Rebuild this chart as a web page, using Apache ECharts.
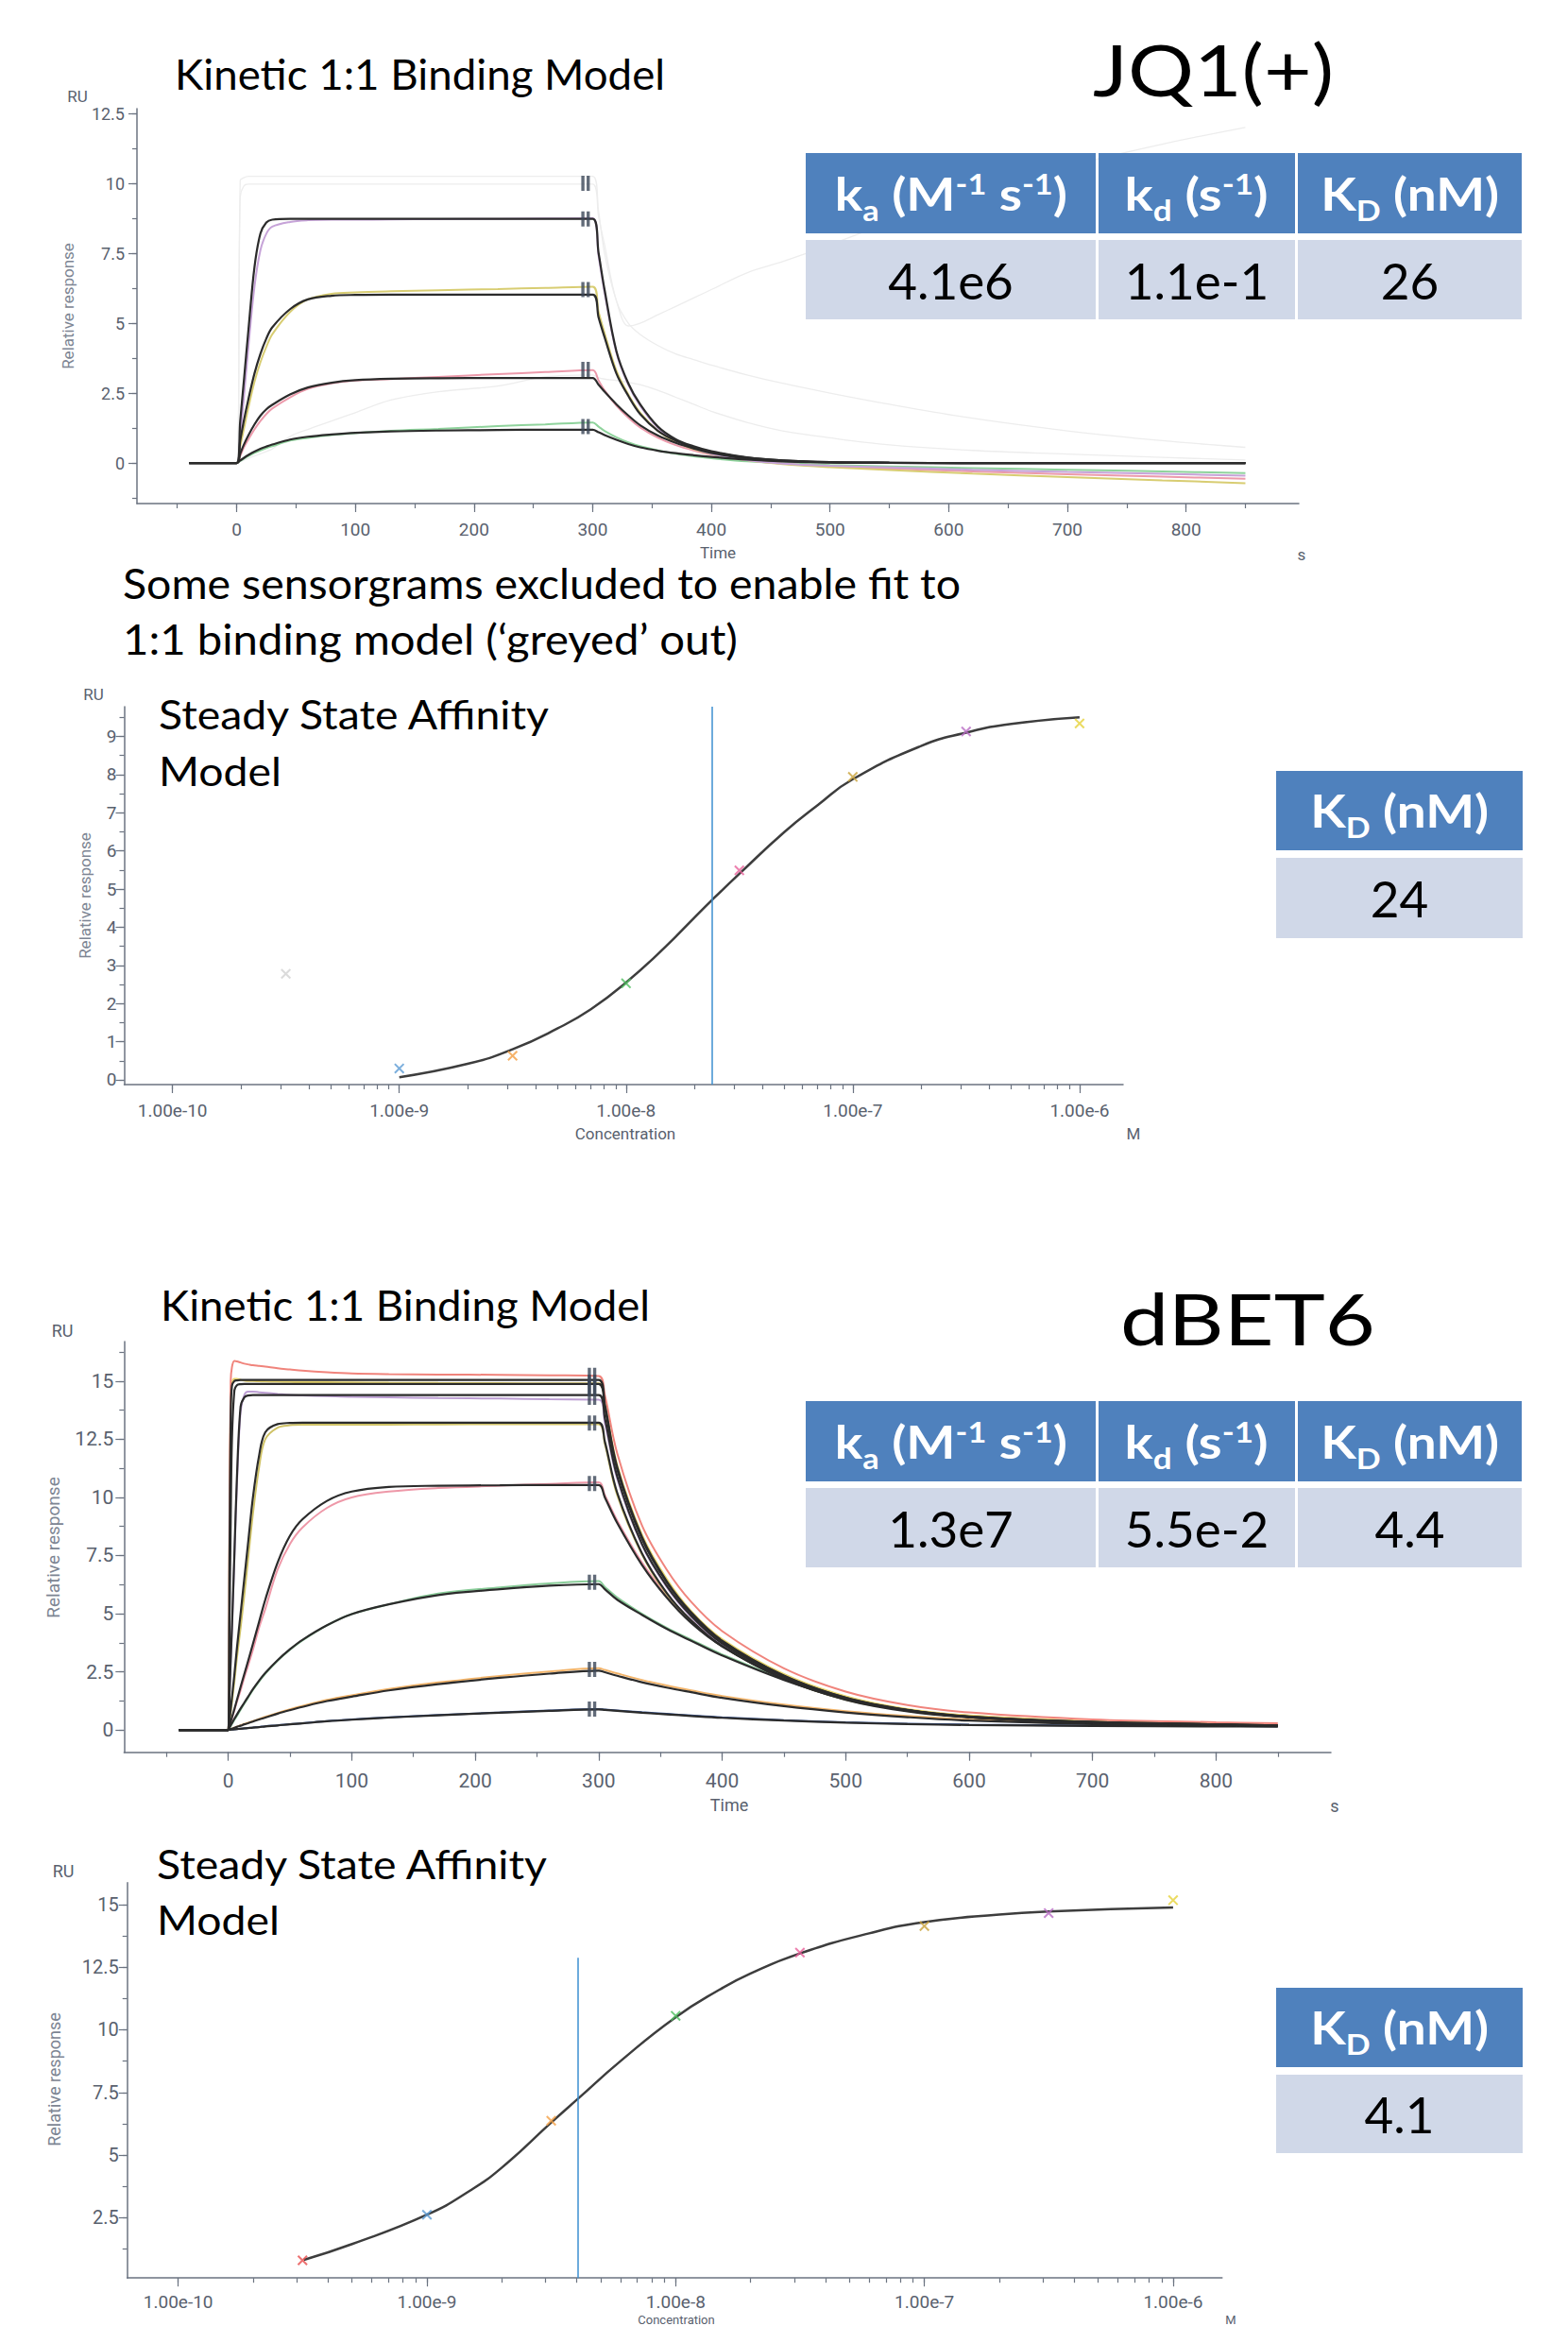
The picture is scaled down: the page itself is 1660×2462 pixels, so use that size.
<!DOCTYPE html>
<html>
<head>
<meta charset="utf-8">
<title>JQ1(+) / dBET6 binding</title>
<script src="https://cdn.jsdelivr.net/npm/echarts@6.0.0/dist/echarts.min.js"></script>
<style>
  html, body { margin: 0; padding: 0; background: #fff; }
  #page { position: relative; width: 1660px; height: 2462px; overflow: hidden; }
  #chart { position: absolute; left: 0; top: 0; width: 1660px; height: 2462px; }
  .txt { position: absolute; font-family: Lato, 'Open Sans', sans-serif; color: #000; white-space: nowrap; line-height: 1; transform-origin: 0 0; }
  .big { font-weight: 400; }
  .tbl { position: absolute; display: grid; }
  .tbl > div { display: flex; align-items: center; justify-content: center; font-family: Lato, sans-serif; line-height: 1; white-space: nowrap; }
  .tbl span { display: inline-block; transform-origin: 50% 50%; }
  .hd { background: #4f81bd; color: #fff; font-weight: 700; font-size: 48px; }
  .cl { background: #d0d8e8; color: #000; font-size: 53px; }
  .tbl sub, .tbl sup { font-size: 62%; line-height: 0; }
</style>
</head>
<body>
<div id="page">
  <div id="chart"></div>

  <div class="txt" data-w="519" style="left:185px; top:56px; font-size:44px;">Kinetic 1:1 Binding Model</div>
  <div class="txt big" data-w="255" style="left:1157px; top:35px; font-size:76px;">JQ1(+)</div>
  <div class="txt" data-w="887" style="left:130px; top:595px; font-size:44px;">Some sensorgrams excluded to enable fit to</div>
  <div class="txt" data-w="651" style="left:130px; top:654px; font-size:44px;">1:1 binding model (‘greyed’ out)</div>
  <div class="txt" data-w="413" style="left:168px; top:734px; font-size:43px;">Steady State Affinity</div>
  <div class="txt" data-w="130" style="left:168px; top:794px; font-size:43px;">Model</div>

  <div class="txt" data-w="518" style="left:170px; top:1359px; font-size:44px;">Kinetic 1:1 Binding Model</div>
  <div class="txt big" data-w="270" style="left:1186px; top:1357px; font-size:76px;">dBET6</div>
  <div class="txt" data-w="413" style="left:166px; top:1951px; font-size:43px;">Steady State Affinity</div>
  <div class="txt" data-w="130" style="left:166px; top:2010px; font-size:43px;">Model</div>

  <div class="tbl" style="left:853px; top:162px; grid-template-columns:307px 208px 237px; grid-template-rows:85px 84px; column-gap:3px; row-gap:7px;">
    <div class="hd"><span data-w="246">k<sub>a</sub> (M<sup>-1</sup> s<sup>-1</sup>)</span></div>
    <div class="hd"><span data-w="152">k<sub>d</sub> (s<sup>-1</sup>)</span></div>
    <div class="hd"><span data-w="189">K<sub>D</sub> (nM)</span></div>
    <div class="cl"><span>4.1e6</span></div>
    <div class="cl"><span>1.1e-1</span></div>
    <div class="cl"><span>26</span></div>
  </div>
  <div class="tbl" style="left:1351px; top:816px; grid-template-columns:261px; grid-template-rows:84px 85px; row-gap:8px;">
    <div class="hd"><span data-w="189">K<sub>D</sub> (nM)</span></div>
    <div class="cl"><span>24</span></div>
  </div>

  <div class="tbl" style="left:853px; top:1483px; grid-template-columns:307px 208px 237px; grid-template-rows:85px 84px; column-gap:3px; row-gap:7px;">
    <div class="hd"><span data-w="246">k<sub>a</sub> (M<sup>-1</sup> s<sup>-1</sup>)</span></div>
    <div class="hd"><span data-w="152">k<sub>d</sub> (s<sup>-1</sup>)</span></div>
    <div class="hd"><span data-w="189">K<sub>D</sub> (nM)</span></div>
    <div class="cl"><span>1.3e7</span></div>
    <div class="cl"><span>5.5e-2</span></div>
    <div class="cl"><span>4.4</span></div>
  </div>
  <div class="tbl" style="left:1351px; top:2104px; grid-template-columns:261px; grid-template-rows:84px 83px; row-gap:8px;">
    <div class="hd"><span data-w="189">K<sub>D</sub> (nM)</span></div>
    <div class="cl"><span>4.1</span></div>
  </div>
</div>

<script>
// ---------- JQ1(+) kinetics (time grid, s) ----------
const JQ1_T = [-40, 0, 3, 6, 10, 15, 20, 25, 30, 45, 60, 80, 100, 130, 170, 220, 260, 300,
  305, 310, 320, 330, 340, 355, 370, 385, 400, 430, 460, 500, 550, 620, 700, 780, 850];

// excluded ("greyed out") sensorgrams
const JQ1_GREY_A = [0, 0, 10.1, 10.2, 10.25, 10.25, 10.25, 10.25, 10.25, 10.25, 10.25, 10.25, 10.25, 10.25, 10.25, 10.25, 10.25, 10.25,
  9.0, 7.5, 5.8, 4.9, 5.0, 5.3, 5.6, 5.9, 6.2, 6.8, 7.2, 7.8, 8.6, 9.6, 10.6, 11.4, 12.0];
const JQ1_GREY_B = [0, 0, 9.5, 9.9, 9.97, 9.97, 9.97, 9.97, 9.97, 9.97, 9.97, 9.97, 9.97, 9.97, 9.97, 9.97, 9.97, 9.97,
  8.8, 7.8, 5.8, 5.0, 4.6, 4.2, 3.9, 3.7, 3.5, 3.15, 2.85, 2.5, 2.1, 1.6, 1.15, 0.8, 0.56];
const JQ1_GREY_C = [0, 0, 0.05, 0.1, 0.17, 0.25, 0.33, 0.41, 0.5, 0.95, 1.2, 1.5, 1.8, 2.25, 2.55, 2.75, 3.08, 3.15,
  3.05, 3.0, 2.95, 2.88, 2.8, 2.6, 2.35, 2.1, 1.85, 1.45, 1.15, 0.9, 0.65, 0.45, 0.32, 0.2, 0.11];

// measured sensorgrams
const JQ1_PURPLE = [0, 0, 1.0, 2.3, 4.2, 6.3, 7.6, 8.2, 8.45, 8.62, 8.68, 8.7, 8.7, 8.71, 8.72, 8.73, 8.74, 8.75,
  7.4, 6.1, 3.95, 2.8, 2.05, 1.25, 0.8, 0.52, 0.33, 0.1, -0.02, -0.1, -0.16, -0.24, -0.32, -0.39, -0.45];
const JQ1_YELLOW = [0, 0, 0.6, 1.2, 2.0, 2.9, 3.6, 4.15, 4.6, 5.4, 5.85, 6.05, 6.1, 6.14, 6.18, 6.22, 6.26, 6.3,
  5.4, 4.65, 3.3, 2.45, 1.8, 1.15, 0.75, 0.5, 0.32, 0.1, -0.04, -0.15, -0.25, -0.38, -0.5, -0.62, -0.72];
const JQ1_PINK = [0, 0, 0.25, 0.55, 0.85, 1.2, 1.5, 1.75, 1.95, 2.35, 2.65, 2.85, 2.95, 3.0, 3.08, 3.18, 3.25, 3.32,
  2.95, 2.6, 2.05, 1.62, 1.27, 0.9, 0.64, 0.45, 0.3, 0.1, -0.02, -0.12, -0.2, -0.3, -0.4, -0.49, -0.56];
const JQ1_GREEN = [0, 0, 0.07, 0.15, 0.25, 0.36, 0.45, 0.53, 0.6, 0.8, 0.9, 1.0, 1.07, 1.15, 1.22, 1.32, 1.38, 1.45,
  1.3, 1.15, 0.92, 0.74, 0.6, 0.45, 0.33, 0.24, 0.17, 0.06, -0.01, -0.07, -0.12, -0.18, -0.24, -0.3, -0.36];

// 1:1 model fits
const JQ1_FIT_A = [0, 0, 1.5, 2.9, 4.8, 7.0, 8.2, 8.6, 8.7, 8.73, 8.73, 8.73, 8.73, 8.73, 8.73, 8.73, 8.73, 8.73,
  7.5, 6.2, 4.0, 2.85, 2.1, 1.3, 0.85, 0.6, 0.42, 0.2, 0.09, 0.03, 0.01, 0, 0, 0, 0];
const JQ1_FIT_B = [0, 0, 0.8, 1.5, 2.3, 3.2, 3.9, 4.45, 4.85, 5.5, 5.85, 5.98, 6.01, 6.02, 6.02, 6.02, 6.02, 6.02,
  5.2, 4.5, 3.2, 2.4, 1.75, 1.15, 0.8, 0.56, 0.4, 0.19, 0.09, 0.03, 0.01, 0, 0, 0, 0];
const JQ1_FIT_C = [0, 0, 0.33, 0.65, 1.0, 1.38, 1.69, 1.92, 2.08, 2.45, 2.7, 2.87, 2.96, 3.01, 3.03, 3.04, 3.04, 3.04,
  2.8, 2.55, 2.1, 1.7, 1.35, 0.98, 0.72, 0.52, 0.36, 0.16, 0.07, 0.02, 0.005, 0, 0, 0, 0];
const JQ1_FIT_D = [0, 0, 0.09, 0.18, 0.29, 0.41, 0.51, 0.59, 0.66, 0.84, 0.94, 1.02, 1.08, 1.13, 1.16, 1.18, 1.19, 1.19,
  1.1, 1.0, 0.83, 0.68, 0.56, 0.44, 0.35, 0.28, 0.22, 0.12, 0.06, 0.02, 0.005, 0, 0, 0, 0];

const JQ1_MARK_T = 294;
const JQ1_MARKS = [10.0, 8.73, 6.2, 3.35, 1.3];

// ---------- dBET6 kinetics ----------
const DB_T = [-40, 0, 1, 2, 3, 5, 7, 10, 13, 16, 20, 25, 30, 40, 50, 60, 80, 100, 130, 170, 220, 260, 300,
  305, 315, 335, 355, 375, 400, 450, 500, 550, 600, 700, 800, 850];

const DB_RED = [0, 0, 9.0, 15.0, 15.6, 15.87, 15.85, 15.8, 15.75, 15.72, 15.68, 15.65, 15.62, 15.55, 15.5, 15.45, 15.38, 15.33, 15.3, 15.28, 15.27, 15.25, 15.22,
  14.4, 11.9, 8.8, 6.9, 5.5, 4.25, 2.65, 1.65, 1.07, 0.75, 0.45, 0.33, 0.29];
const DB_YELLOW = [0, 0, 8.0, 14.2, 14.9, 15.1, 15.1, 15.05, 15.02, 15.0, 15.0, 14.99, 14.98, 14.97, 14.96, 14.95, 14.95, 14.94, 14.93, 14.92, 14.91, 14.9, 14.9,
  14.0, 11.4, 8.4, 6.5, 5.1, 3.9, 2.4, 1.45, 0.9, 0.62, 0.37, 0.26, 0.21];
const DB_PURPLE = [0, 0, 1.5, 3.0, 4.3, 7.4, 10.5, 13.7, 14.4, 14.55, 14.55, 14.52, 14.5, 14.45, 14.4, 14.38, 14.35, 14.32, 14.3, 14.27, 14.25, 14.22, 14.2,
  13.2, 10.8, 7.95, 6.15, 4.85, 3.68, 2.25, 1.35, 0.84, 0.57, 0.34, 0.24, 0.2];
const DB_OLIVE = [0, 0, 0.35, 0.75, 1.2, 2.1, 3.1, 4.4, 5.8, 7.3, 9.3, 11.3, 12.5, 13.0, 13.1, 13.12, 13.12, 13.12, 13.13, 13.14, 13.15, 13.15, 13.15,
  12.3, 10.1, 7.55, 5.85, 4.7, 3.6, 2.2, 1.3, 0.82, 0.56, 0.33, 0.23, 0.19];
const DB_PINK = [0, 0, 0.15, 0.32, 0.5, 0.85, 1.2, 1.7, 2.25, 2.75, 3.45, 4.4, 5.2, 6.9, 8.0, 8.7, 9.55, 10.0, 10.25, 10.4, 10.5, 10.58, 10.65,
  10.1, 9.0, 7.2, 5.8, 4.7, 3.68, 2.25, 1.4, 0.87, 0.6, 0.36, 0.26, 0.22];
const DB_GREEN = [0, 0, 0.08, 0.17, 0.26, 0.43, 0.6, 0.87, 1.13, 1.38, 1.72, 2.08, 2.42, 2.98, 3.45, 3.85, 4.5, 4.98, 5.4, 5.86, 6.13, 6.3, 6.4,
  6.15, 5.7, 5.0, 4.4, 3.88, 3.25, 2.18, 1.36, 0.88, 0.58, 0.35, 0.24, 0.2];
const DB_ORANGE = [0, 0, 0.02, 0.04, 0.06, 0.1, 0.14, 0.2, 0.26, 0.31, 0.38, 0.47, 0.56, 0.73, 0.89, 1.03, 1.29, 1.49, 1.76, 2.04, 2.32, 2.51, 2.65,
  2.58, 2.43, 2.15, 1.91, 1.7, 1.46, 1.09, 0.81, 0.6, 0.45, 0.29, 0.22, 0.2];
const DB_NAVY = [0, 0, 0.005, 0.01, 0.015, 0.025, 0.035, 0.05, 0.065, 0.08, 0.1, 0.13, 0.16, 0.2, 0.25, 0.29, 0.38, 0.45, 0.54, 0.64, 0.75, 0.84, 0.9,
  0.88, 0.84, 0.76, 0.69, 0.62, 0.54, 0.42, 0.33, 0.27, 0.23, 0.19, 0.17, 0.16];

const DB_FIT_1 = [0, 0, 7.0, 13.5, 14.8, 15.0, 15.03, 15.05, 15.05, 15.05, 15.05, 15.05, 15.05, 15.05, 15.05, 15.05, 15.05, 15.05, 15.05, 15.05, 15.05, 15.05, 15.05,
  14.0, 11.3, 8.3, 6.4, 5.05, 3.84, 2.34, 1.39, 0.86, 0.58, 0.34, 0.24, 0.19];
const DB_FIT_2 = [0, 0, 4.5, 9.0, 12.5, 14.6, 14.82, 14.87, 14.88, 14.88, 14.88, 14.88, 14.88, 14.88, 14.88, 14.88, 14.88, 14.88, 14.88, 14.88, 14.88, 14.88, 14.88,
  13.85, 11.2, 8.22, 6.35, 5.0, 3.8, 2.32, 1.38, 0.85, 0.57, 0.34, 0.24, 0.19];
const DB_FIT_3 = [0, 0, 1.5, 3.0, 4.4, 7.6, 10.8, 13.9, 14.3, 14.38, 14.4, 14.4, 14.4, 14.4, 14.4, 14.4, 14.4, 14.4, 14.4, 14.4, 14.4, 14.4, 14.4,
  13.4, 10.9, 8.0, 6.2, 4.9, 3.72, 2.28, 1.36, 0.84, 0.56, 0.33, 0.23, 0.18];
const DB_FIT_4 = [0, 0, 0.45, 0.9, 1.4, 2.4, 3.5, 5.0, 6.5, 8.0, 10.0, 11.8, 12.8, 13.15, 13.2, 13.21, 13.21, 13.21, 13.21, 13.21, 13.21, 13.21, 13.21,
  12.4, 10.2, 7.6, 5.9, 4.7, 3.6, 2.2, 1.3, 0.8, 0.55, 0.32, 0.22, 0.18];
const DB_FIT_5 = [0, 0, 0.18, 0.36, 0.54, 0.9, 1.28, 1.85, 2.4, 2.95, 3.7, 4.65, 5.6, 7.2, 8.35, 9.05, 9.85, 10.25, 10.45, 10.5, 10.52, 10.53, 10.53,
  10.0, 8.9, 7.1, 5.7, 4.6, 3.6, 2.2, 1.35, 0.83, 0.55, 0.32, 0.22, 0.18];
const DB_FIT_6 = [0, 0, 0.1, 0.2, 0.29, 0.48, 0.66, 0.92, 1.17, 1.42, 1.75, 2.12, 2.45, 3.0, 3.47, 3.87, 4.5, 4.98, 5.4, 5.8, 6.05, 6.2, 6.27,
  6.05, 5.6, 4.95, 4.35, 3.83, 3.2, 2.15, 1.32, 0.85, 0.55, 0.32, 0.22, 0.18];
const DB_FIT_7 = [0, 0, 0.02, 0.04, 0.05, 0.09, 0.13, 0.18, 0.24, 0.29, 0.36, 0.45, 0.53, 0.7, 0.85, 0.99, 1.24, 1.43, 1.7, 1.97, 2.24, 2.42, 2.55,
  2.48, 2.33, 2.05, 1.82, 1.62, 1.38, 1.02, 0.75, 0.55, 0.4, 0.25, 0.19, 0.17];
const DB_FIT_8 = [0, 0, 0.005, 0.01, 0.015, 0.025, 0.035, 0.05, 0.065, 0.08, 0.1, 0.12, 0.15, 0.19, 0.24, 0.28, 0.37, 0.44, 0.53, 0.63, 0.74, 0.82, 0.88,
  0.86, 0.82, 0.74, 0.67, 0.6, 0.52, 0.4, 0.31, 0.25, 0.21, 0.17, 0.15, 0.14];

const DB_MARK_T = 294.6;
const DB_MARKS = [15.25, 14.95, 14.7, 14.3, 13.2, 10.6, 6.35, 2.6, 0.9];

// ---------- steady state affinity ----------
const CONC = [3.16e-10, 1e-9, 3.16e-9, 1e-8, 3.16e-8, 1e-7, 3.16e-7, 1e-6];
const JQ1_SS = [2.78, 0.30, 0.63, 2.53, 5.49, 7.94, 9.13, 9.34];
const JQ1_SS_COLORS = ['#d2d2d2', '#5b9bd5', '#f4a046', '#4fbf5f', '#e8619b', '#c9a23a', '#b86bc4', '#e6d23a'];
const JQ1_FIT_CONC = [1e-9, 2e-9, 3.16e-9, 5e-9, 7e-9, 1e-8, 1.5e-8, 2e-8, 2.4e-8, 3.16e-8, 5e-8, 7e-8, 1e-7, 2e-7, 3.16e-7, 5e-7, 1e-6];
const JQ1_FIT_RU = [0.07, 0.42, 0.8, 1.35, 1.85, 2.55, 3.5, 4.25, 4.72, 5.4, 6.5, 7.2, 7.88, 8.75, 9.1, 9.33, 9.5];
const JQ1_KD = 2.4e-8;

const DB_SS = [0.80, 2.62, 6.37, 10.56, 13.08, 14.14, 14.66, 15.17];
const DB_SS_COLORS = ['#e84d4d', '#5b9bd5', '#f4a046', '#4fbf5f', '#e8619b', '#c9a23a', '#b86bc4', '#e6d23a'];
const DB_FIT_CONC = [3.2e-10, 5e-10, 1e-9, 1.5e-9, 2e-9, 3.16e-9, 4.05e-9, 6e-9, 1e-8, 1.5e-8, 2e-8, 3.16e-8, 6e-8, 1e-7, 2e-7, 3.16e-7, 1e-6];
const DB_FIT_RU = [0.82, 1.45, 2.62, 3.6, 4.5, 6.3, 7.25, 8.75, 10.5, 11.6, 12.25, 13.05, 13.85, 14.3, 14.6, 14.72, 14.88];
const DB_KD = 4.05e-9;
const DB_KD_TOP = 12.87;

// ---------- ticks / labels ----------
const TIME_TICKS = [-50, 0, 50, 100, 150, 200, 250, 300, 350, 400, 450, 500, 550, 600, 650, 700, 750, 800, 850];
const TIME_LABELS = [0, 100, 200, 300, 400, 500, 600, 700, 800];
const JQ1_Y_TICKS = [-1.25, 0, 1.25, 2.5, 3.75, 5, 6.25, 7.5, 8.75, 10, 11.25, 12.5];
const JQ1_Y_LABELS = [0, 2.5, 5, 7.5, 10, 12.5];
const DB_Y_TICKS = [0, 1.25, 2.5, 3.75, 5, 6.25, 7.5, 8.75, 10, 11.25, 12.5, 13.75, 15, 16.25];
const DB_Y_LABELS = [0, 2.5, 5, 7.5, 10, 12.5, 15];
const SS1_Y_TICKS = [0, 0.5, 1, 1.5, 2, 2.5, 3, 3.5, 4, 4.5, 5, 5.5, 6, 6.5, 7, 7.5, 8, 8.5, 9, 9.5];
const SS1_Y_LABELS = [0, 1, 2, 3, 4, 5, 6, 7, 8, 9];
const SS2_Y_TICKS = [1.25, 2.5, 3.75, 5, 6.25, 7.5, 8.75, 10, 11.25, 12.5, 13.75, 15];
const SS2_Y_LABELS = [2.5, 5, 7.5, 10, 12.5, 15];
const CONC_DECADES = [1e-10, 1e-9, 1e-8, 1e-7, 1e-6];
const DECADE_STEPS = [1, 2, 3, 4, 5, 6, 7, 8, 9];
const CONC_TICKS = CONC_DECADES.flatMap(d => DECADE_STEPS.map(m => m * d));

const AXIS_COLOR = '#6b7380';
const LABEL_COLOR = '#59616e';
const NAME_COLOR = '#7d8593';
const FIT_COLOR = '#2b2b2b';
const KD_COLOR = '#3d8fd1';
const MARK_COLOR = '#3b4658';
const GREY = '#ededed';

const X_MARK = 'path://M0 1.3L1.3 0L10 8.7L8.7 10Z M8.7 0L10 1.3L1.3 10L0 8.7Z';
const BARS = 'path://M0 0H3V14H0Z M5 0H8V14H5Z';

const pairs = (xs, ys) => xs.map((x, i) => [x, ys[i]]);
const expFmt = v => Number(v).toExponential(2);

// one visible axis with minor ticks + labels, and a twin with longer major ticks only
function axisPair(dim, grid, type, min, max, minor, major, labels, fontSize, margin, fmt) {
  const base = { type, gridIndex: grid, min, max, position: dim === 'x' ? 'bottom' : 'left', splitLine: { show: false }, silent: true };
  if (type === 'log') base.logBase = 10;
  const lineStyle = { color: AXIS_COLOR, width: 1.5 };
  return [
    Object.assign({}, base, {
      axisLine: { show: true, onZero: false, lineStyle },
      axisTick: { show: true, length: 5, customValues: minor, lineStyle: { color: AXIS_COLOR, width: 1.2 } },
      axisLabel: { show: true, customValues: labels, formatter: fmt, color: LABEL_COLOR, fontSize, fontFamily: 'Roboto', margin }
    }),
    Object.assign({}, base, {
      axisLine: { show: false, onZero: false },
      axisTick: { show: true, length: 9, customValues: major, lineStyle: { color: AXIS_COLOR, width: 1.2 } },
      axisLabel: { show: false }
    })
  ];
}

function line(xi, yi, data, color, width, z, smooth) {
  return { type: 'line', xAxisIndex: xi, yAxisIndex: yi, data, showSymbol: false, symbol: 'none',
    smooth: smooth || 0.35, lineStyle: { color, width }, z, silent: true };
}

function label(text, x, y, size, rotated, color) {
  return { type: 'text', x, y, rotation: rotated ? Math.PI / 2 : 0, silent: true,
    style: { text, fill: color || LABEL_COLOR, font: size + 'px Roboto', textAlign: 'center', align: 'center', textVerticalAlign: 'middle', verticalAlign: 'middle' } };
}

const LOG_MIN_1 = Math.pow(10, -10.213), LOG_MAX_1 = Math.pow(10, -5.808);
const LOG_MIN_2 = Math.pow(10, -10.205), LOG_MAX_2 = Math.pow(10, -5.803);

const xAxis = [].concat(
  axisPair('x', 0, 'value', -84, 895, TIME_TICKS, TIME_LABELS, TIME_LABELS, 19, 18),
  axisPair('x', 1, 'log', LOG_MIN_1, LOG_MAX_1, CONC_TICKS, CONC_DECADES, CONC_DECADES, 19, 18, expFmt),
  axisPair('x', 2, 'value', -84.4, 893, TIME_TICKS, TIME_LABELS, TIME_LABELS, 21, 20),
  axisPair('x', 3, 'log', LOG_MIN_2, LOG_MAX_2, CONC_TICKS, CONC_DECADES, CONC_DECADES, 19, 16, expFmt)
);
const yAxis = [].concat(
  axisPair('y', 0, 'value', -1.45, 12.67, JQ1_Y_TICKS, JQ1_Y_LABELS, JQ1_Y_LABELS, 18, 13),
  axisPair('y', 1, 'value', -0.124, 9.78, SS1_Y_TICKS, SS1_Y_LABELS, SS1_Y_LABELS, 19, 8),
  axisPair('y', 2, 'value', -0.96, 16.7, DB_Y_TICKS, DB_Y_LABELS, DB_Y_LABELS, 21, 11),
  axisPair('y', 3, 'value', 0.094, 15.87, SS2_Y_TICKS, SS2_Y_LABELS, SS2_Y_LABELS, 20, 9)
);

const series = [
  // JQ1 kinetics (axes 0)
  line(0, 0, pairs(JQ1_T, JQ1_GREY_C), GREY, 1.3, 1),
  line(0, 0, pairs(JQ1_T, JQ1_GREY_B), GREY, 1.3, 1),
  line(0, 0, pairs(JQ1_T, JQ1_GREY_A), GREY, 1.3, 1),
  line(0, 0, pairs(JQ1_T, JQ1_GREEN), '#8fd39c', 2, 2),
  line(0, 0, pairs(JQ1_T, JQ1_PINK), '#ec9aab', 2, 2),
  line(0, 0, pairs(JQ1_T, JQ1_YELLOW), '#d8cd72', 2, 2),
  line(0, 0, pairs(JQ1_T, JQ1_PURPLE), '#c6a3d8', 2, 2),
  line(0, 0, pairs(JQ1_T, JQ1_FIT_D), FIT_COLOR, 2.2, 3),
  line(0, 0, pairs(JQ1_T, JQ1_FIT_C), FIT_COLOR, 2.2, 3),
  line(0, 0, pairs(JQ1_T, JQ1_FIT_B), FIT_COLOR, 2.2, 3),
  line(0, 0, pairs(JQ1_T, JQ1_FIT_A), FIT_COLOR, 2.2, 3),
  { type: 'scatter', xAxisIndex: 0, yAxisIndex: 0, symbol: BARS, symbolSize: [9, 16], z: 4, silent: true,
    itemStyle: { color: MARK_COLOR }, data: JQ1_MARKS.map(v => [JQ1_MARK_T, v]) },

  // JQ1 steady state (axes 2)
  Object.assign(line(2, 2, pairs(JQ1_FIT_CONC, JQ1_FIT_RU), '#3d3d3d', 2.5, 3, 0.5), {
    markLine: { silent: true, symbol: ['none', 'none'], label: { show: false },
      lineStyle: { color: KD_COLOR, width: 1.5, type: 'solid' },
      data: [[{ coord: [JQ1_KD, -0.124] }, { coord: [JQ1_KD, 9.78] }]] }
  }),
  { type: 'scatter', xAxisIndex: 2, yAxisIndex: 2, symbol: X_MARK, symbolSize: 11, z: 4, silent: true,
    data: CONC.map((c, i) => ({ value: [c, JQ1_SS[i]], itemStyle: { color: JQ1_SS_COLORS[i] } })) },

  // dBET6 kinetics (axes 4)
  line(4, 4, pairs(DB_T, DB_NAVY), '#34508c', 2, 2),
  line(4, 4, pairs(DB_T, DB_ORANGE), '#f2b46a', 2, 2),
  line(4, 4, pairs(DB_T, DB_GREEN), '#88cc98', 2, 2),
  line(4, 4, pairs(DB_T, DB_PINK), '#ee98a8', 2, 2),
  line(4, 4, pairs(DB_T, DB_OLIVE), '#cfc266', 2, 2),
  line(4, 4, pairs(DB_T, DB_PURPLE), '#bb9dd2', 2, 2),
  line(4, 4, pairs(DB_T, DB_YELLOW), '#e6d36a', 2, 2),
  line(4, 4, pairs(DB_T, DB_RED), '#f0847c', 2, 2),
  line(4, 4, pairs(DB_T, DB_FIT_8), FIT_COLOR, 2.2, 3),
  line(4, 4, pairs(DB_T, DB_FIT_7), FIT_COLOR, 2.2, 3),
  line(4, 4, pairs(DB_T, DB_FIT_6), FIT_COLOR, 2.2, 3),
  line(4, 4, pairs(DB_T, DB_FIT_5), FIT_COLOR, 2.2, 3),
  line(4, 4, pairs(DB_T, DB_FIT_4), FIT_COLOR, 2.2, 3),
  line(4, 4, pairs(DB_T, DB_FIT_3), FIT_COLOR, 2.2, 3),
  line(4, 4, pairs(DB_T, DB_FIT_2), FIT_COLOR, 2.2, 3),
  line(4, 4, pairs(DB_T, DB_FIT_1), FIT_COLOR, 2.2, 3),
  { type: 'scatter', xAxisIndex: 4, yAxisIndex: 4, symbol: BARS, symbolSize: [9, 16], z: 4, silent: true,
    itemStyle: { color: MARK_COLOR }, data: DB_MARKS.map(v => [DB_MARK_T, v]) },

  // dBET6 steady state (axes 6)
  Object.assign(line(6, 6, pairs(DB_FIT_CONC, DB_FIT_RU), '#3d3d3d', 2.5, 3, 0.5), {
    markLine: { silent: true, symbol: ['none', 'none'], label: { show: false },
      lineStyle: { color: KD_COLOR, width: 1.5, type: 'solid' },
      data: [[{ coord: [DB_KD, 0.094] }, { coord: [DB_KD, DB_KD_TOP] }]] }
  }),
  { type: 'scatter', xAxisIndex: 6, yAxisIndex: 6, symbol: X_MARK, symbolSize: 11, z: 4, silent: true,
    data: CONC.map((c, i) => ({ value: [c, DB_SS[i]], itemStyle: { color: DB_SS_COLORS[i] } })) }
];

const chart = echarts.init(document.getElementById('chart'), null, { renderer: 'svg' });
chart.setOption({
  animation: false,
  backgroundColor: 'transparent',
  grid: [
    { left: 145, top: 115, width: 1230, height: 418, containLabel: false, outerBoundsMode: 'none' },
    { left: 131.5, top: 748, width: 1057.5, height: 400, containLabel: false, outerBoundsMode: 'none' },
    { left: 131.3, top: 1420, width: 1277.7, height: 434.7, containLabel: false, outerBoundsMode: 'none' },
    { left: 134.7, top: 1992.8, width: 1159.1, height: 418.4, containLabel: false, outerBoundsMode: 'none' }
  ],
  xAxis,
  yAxis,
  series,
  graphic: [
    label('RU', 82, 102, 17),
    label('Relative response', 72, 324, 17, true, NAME_COLOR),
    label('Time', 760, 585, 17),
    label('s', 1378, 587, 17),
    label('RU', 99, 735, 17),
    label('Relative response', 90, 948, 17, true, NAME_COLOR),
    label('Concentration', 662, 1200, 17),
    label('M', 1200, 1200, 17),
    label('RU', 66, 1408, 18),
    label('Relative response', 56, 1638, 19, true, NAME_COLOR),
    label('Time', 772, 1910, 18),
    label('s', 1413, 1911, 18),
    label('RU', 67, 1980, 18),
    label('Relative response', 57, 2201, 18, true, NAME_COLOR),
    label('Concentration', 716, 2455, 13),
    label('M', 1303, 2455, 13)
  ]
});

// squeeze/stretch slide texts to the widths they have in the slide
document.querySelectorAll('[data-w]').forEach(el => {
  const w = el.getBoundingClientRect().width;
  if (w > 0) el.style.transform = 'scaleX(' + (Number(el.dataset.w) / w).toFixed(4) + ')';
});
</script>
</body>
</html>
